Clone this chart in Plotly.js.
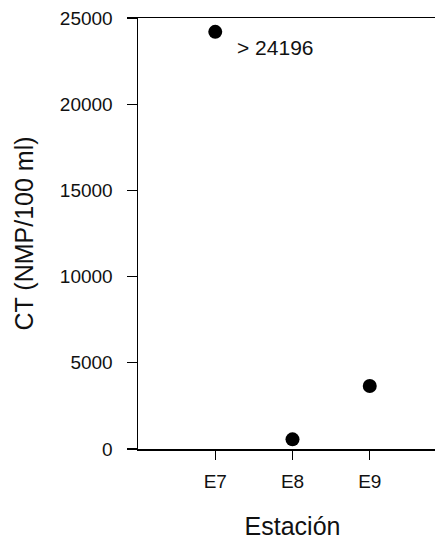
<!DOCTYPE html>
<html>
<head>
<meta charset="utf-8">
<script src="https://cdn.plot.ly/plotly-3.0.1.min.js"></script>
<style>html,body{margin:0;padding:0;background:#fff;overflow:hidden;}#chart{width:447px;height:543px;}</style>
</head>
<body>
<div id="chart"></div>
<script>
const stations = ["E7", "E8", "E9"];
const stationPos = [1, 2, 3];
const ctValues = [24196, 560, 3650];
const yTicks = [0, 5000, 10000, 15000, 20000, 25000];
const labelText = "> 24196";

const trace = {
  x: stationPos,
  y: ctValues,
  type: "scatter",
  mode: "markers",
  marker: {color: "#000", size: 14},
  cliponaxis: false,
  hoverinfo: "skip"
};

const layout = {
  width: 447,
  height: 543,
  margin: {l: 138, r: 0, t: 18, b: 94},
  paper_bgcolor: "#fff",
  plot_bgcolor: "#fff",
  font: {family: "Liberation Sans, Arial, sans-serif", color: "#111", size: 19},
  showlegend: false,
  xaxis: {
    range: [0, 4],
    tickvals: stationPos,
    ticktext: stations,
    ticks: "outside",
    ticklen: 9,
    tickwidth: 1.3,
    tickcolor: "#000",
    showline: true,
    linecolor: "#000",
    linewidth: 1.5,
    mirror: true,
    showgrid: false,
    zeroline: false,
    tickfont: {size: 19},
    ticklabelstandoff: 6,
    title: {text: "Estación", font: {size: 25}, standoff: 26}
  },
  yaxis: {
    range: [0, 25000],
    tickvals: yTicks,
    ticktext: yTicks.map(String),
    ticks: "outside",
    ticklen: 10,
    tickwidth: 1.3,
    tickcolor: "#000",
    showline: true,
    linecolor: "#000",
    linewidth: 1.5,
    showgrid: false,
    zeroline: false,
    tickfont: {size: 19},
    ticklabelstandoff: 10,
    title: {text: "CT (NMP/100 ml)", font: {size: 25}, standoff: 19}
  },
  annotations: [{
    x: stationPos[0],
    y: ctValues[0],
    xref: "x",
    yref: "y",
    text: labelText,
    showarrow: false,
    xanchor: "left",
    yanchor: "middle",
    xshift: 20,
    yshift: -16,
    font: {size: 21}
  }]
};

Plotly.newPlot("chart", [trace], layout, {displayModeBar: false, staticPlot: true});
</script>
</body>
</html>
